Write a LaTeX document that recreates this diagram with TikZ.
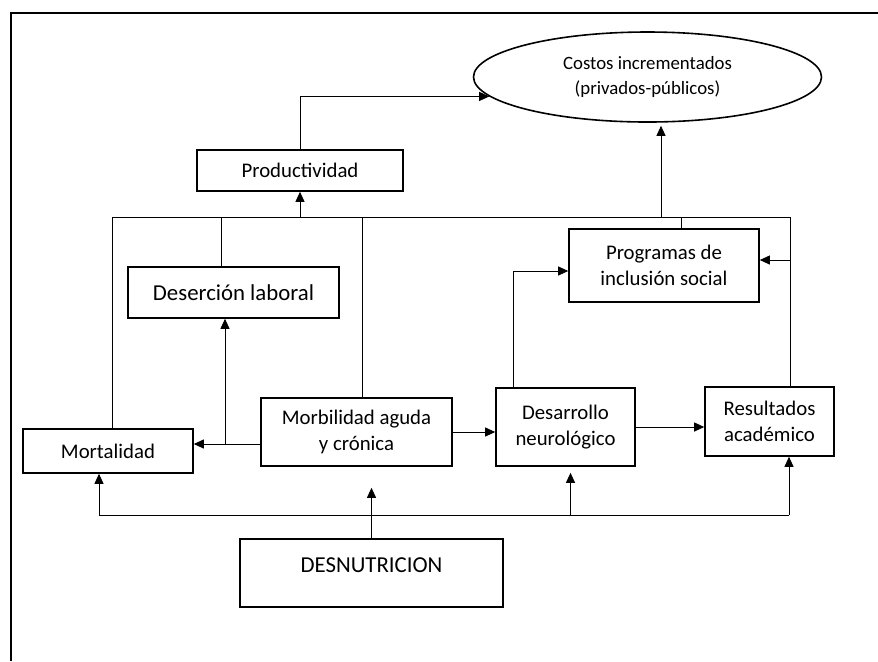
\documentclass[tikz,border=0pt]{standalone}
\usepackage{fontspec}
\setmainfont{Carlito}
\usetikzlibrary{shapes.geometric,arrows.meta}
\begin{document}
\begin{tikzpicture}[x=0.5pt,y=-0.5pt]

      \tikzset{caja/.style={draw, rectangle, line width=0.8pt, inner sep=0pt, align=center, font=\fontsize{10.4}{13}\selectfont},
               grande/.style={font=\fontsize{11.4}{14}\selectfont},
               linea/.style={line width=0.45pt},
               flecha/.style={linea, -{Triangle[length=5pt,width=4.5pt]}}}
      \useasboundingbox (0,0) rectangle (878,661);
      \draw[line width=0.7pt] (11,661) -- (11,13) -- (878,13);
%% Nodes
      \node[draw, ellipse, line width=0.8pt, inner sep=0pt, minimum width=174pt, minimum height=45pt, align=center, font=\fontsize{9.4}{12.5}\selectfont] (costos) at (647.5,77) {Costos incrementados\\(privados-públicos)};
      \node[caja, minimum width=103pt, minimum height=20.5pt] (prod) at (300,170.5) {Productividad};
      \node[caja, grande, minimum width=105.5pt, minimum height=25.5pt] (des) at (233.5,292.5) {Deserción laboral};
      \node[caja, minimum width=95pt, minimum height=36.5pt] (prog) at (664,265.5) {Programas de\\inclusión social};
      \node[caja, minimum width=85pt, minimum height=22pt] (mort) at (108,451) {Mortalidad};
      \node[caja, minimum width=95.5pt, minimum height=34pt] (morb) at (356.5,432) {Morbilidad aguda\\y crónica};
      \node[caja, minimum width=69.5pt, minimum height=39pt] (neuro) at (565.5,427) {Desarrollo\\neurológico};
      \node[caja, minimum width=64.5pt, minimum height=34.5pt] (res) at (769.5,421.5) {Resultados\\académico};
      \node[caja, grande, minimum width=131.5pt, minimum height=34pt, text height=7.5pt, text depth=8.2pt] (desn) at (371.5,573) {DESNUTRICION};
%% Junctions
      \coordinate (arribaI) at (112,217);
      \coordinate (arribaD) at (790,217);
      \coordinate (subida) at (661,217);
      \coordinate (abajoI) at (99,515);
      \coordinate (abajoD) at (789,515);
      \coordinate (cruce) at (225,444);
%Edges
      \draw[flecha] (prod.north) |- (costos.187);
      \draw[linea] (arribaI |- mort.north) -- (arribaI) -- (arribaD) -- (arribaD |- res.north);
      \draw[flecha] (prod.south |- arribaI) -- (prod.south);
      \draw[linea] ([xshift=-6pt]des.north) -- ([xshift=-6pt]des.north |- arribaI);
      \draw[linea] ([xshift=3pt]morb.north) -- ([xshift=3pt]morb.north |- arribaI);
      \draw[linea] ([xshift=8.5pt]prog.north) -- ([xshift=8.5pt]prog.north |- arribaI);
      \draw[flecha, shorten >=1.5pt] (subida) -- (subida |- costos.south);
      \draw[flecha] ([yshift=2.75pt]arribaD |- prog.east) -- ([yshift=2.75pt]prog.east);
      \draw[flecha] (morb.west |- cruce) -- (mort.east |- cruce);
      \draw[flecha] (cruce) -- (cruce |- des.south);
      \draw[flecha] (morb.east) -- (morb.east -| neuro.west);
      \draw[flecha] ([xshift=-26pt]neuro.north) |- ([yshift=-2.75pt]prog.west);
      \draw[flecha] (neuro.east) -- (neuro.east -| res.west);
      \draw[linea] (abajoI) -- (abajoD);
      \draw[flecha] (abajoI) -- (abajoI |- mort.south);
      \draw[flecha] (abajoD) -- (abajoD |- res.south);
      \draw[flecha, shorten >=3pt] ([xshift=2.5pt]neuro.south |- abajoI) -- ([xshift=2.5pt]neuro.south);
      \draw[flecha, shorten >=10.5pt] (desn.north) -- (desn.north |- morb.south);

\end{tikzpicture}
\end{document}
